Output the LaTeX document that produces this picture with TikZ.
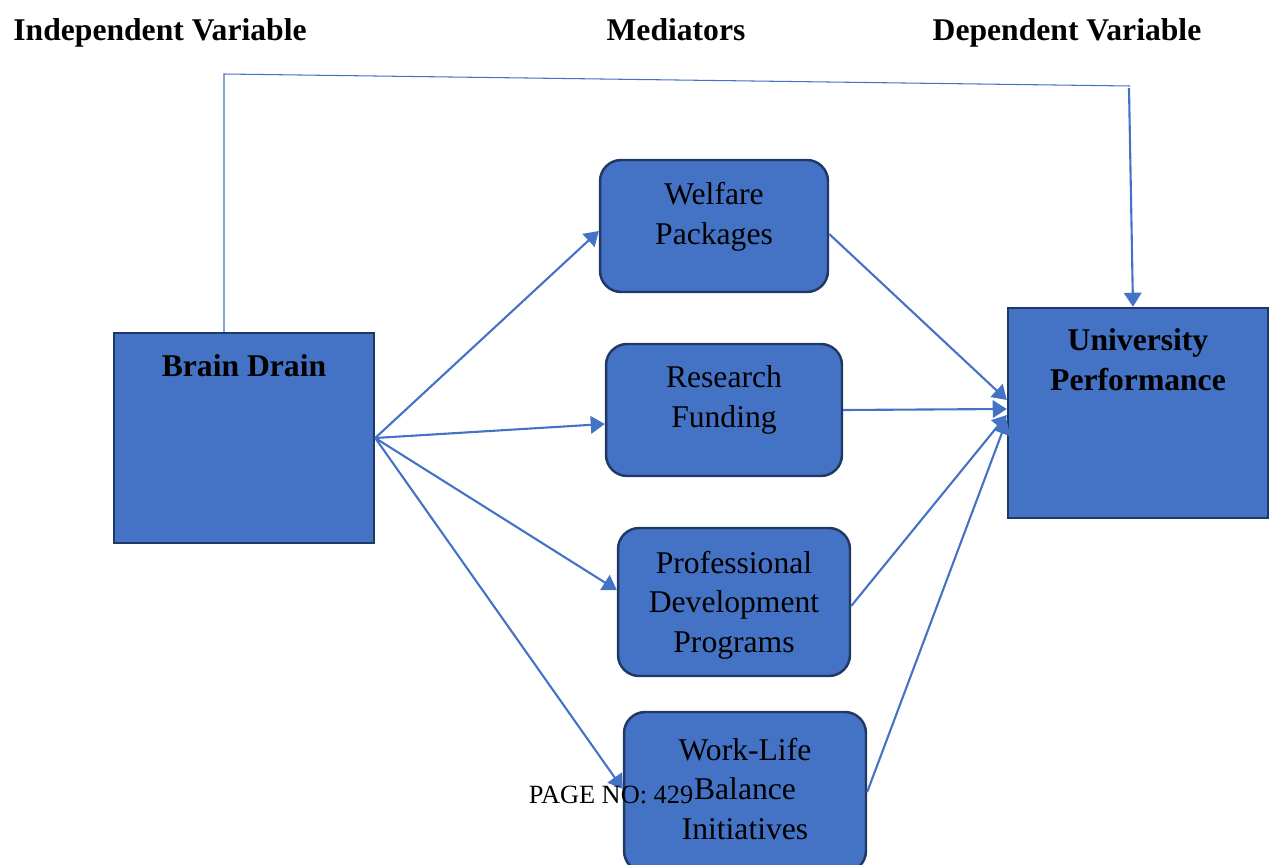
\documentclass[tikz,border=0pt]{standalone}
\usepackage{fontspec}
\setmainfont{Liberation Serif}
\usetikzlibrary{arrows.meta}
\definecolor{boxblue}{HTML}{4472C4}
\definecolor{boxedge}{HTML}{1F3864}
\tikzset{
    varbox/.style = {draw = boxedge, fill = boxblue, line width = 1.4pt, minimum width = #1},
    medbox/.style = {varbox = #1, rounded corners = 12pt},
    boxtext/.style = {align = center, font = \fontsize{18}{22.6}\selectfont},
    heading/.style = {anchor = base, font = \fontsize{18}{22}\selectfont\bfseries},
    link/.style = {draw = boxblue, line width = 1.2pt, -{Triangle[length = 8pt, width = 10pt]}}
}
\begin{document}
\begin{tikzpicture}[x = 0.02cm, y = -0.02cm]
        \useasboundingbox (0,0) rectangle (1269,865);
        \clip (0,0) rectangle (1269,865);
        \node[heading] (iv) at (160,41) {Independent Variable};
        \node[heading] (med) at (676,41) {Mediators};
        \node[heading] (dv) at (1067,41) {Dependent Variable};
        \node[varbox = 5.2cm, minimum height = 4.2cm] (bd) at (244,438) {};
        \node[varbox = 5.2cm, minimum height = 4.2cm] (up) at (1138,413) {};
        \node[medbox = 4.56cm, minimum height = 2.64cm] (wp) at (714,226) {};
        \node[medbox = 4.72cm, minimum height = 2.64cm] (rf) at (724,410) {};
        \node[medbox = 4.64cm, minimum height = 2.96cm] (pd) at (734,602) {};
        \node[medbox = 4.84cm, minimum height = 3.2cm] (wl) at (745,792) {};
        \node[boxtext, font = \fontsize{18}{22.6}\selectfont\bfseries] (bdt) at (244,366) {Brain Drain};
        \node[boxtext, font = \fontsize{18}{22.6}\selectfont\bfseries] (upt) at (1138,360) {University\\Performance};
        \node[boxtext] (wpt) at (714,217) {Welfare\\Packages};
        \node[boxtext] (rft) at (724,400) {Research\\Funding};
        \node[boxtext] (pdt) at (734,605) {Professional\\Development\\Programs};
        \node[boxtext] (wlt) at (745,789) {Work-Life\\Balance\\Initiatives};
        \coordinate (tl) at (224,74);
        \coordinate (tr) at (1130,86);
        \draw[boxblue, line width = 0.6pt] (bd.north -| tl) -- (tl) -- (tr);
        \draw[link] ([xshift = -0.02cm]tr |- 0,88) -- ([xshift = -0.1cm]up.north);
        \draw[link] (bd.east) -- ([yshift = -0.1cm]wp.west);
        \draw[link] (bd.east) -- ([yshift = -0.28cm]rf.west);
        \draw[link] (bd.east) -- ([yshift = 0.24cm]pd.west);
        \draw[link] (bd.east) -- ([yshift = 0.06cm]wl.west);
        \draw[link] ([yshift = -0.16cm]wp.east) -- ([yshift = 0.26cm]up.west);
        \draw[link] (rf.east) -- ([yshift = 0.08cm]up.west);
        \draw[link] ([yshift = -0.08cm]pd.east) -- ([yshift = -0.04cm]up.west);
        \draw[link] (wl.east) -- ([yshift = -0.14cm]up.west);
        \node[font = \fontsize{15}{18}\selectfont] (page) at (611,795) {PAGE NO: 429};
    \end{tikzpicture}
\end{document}
